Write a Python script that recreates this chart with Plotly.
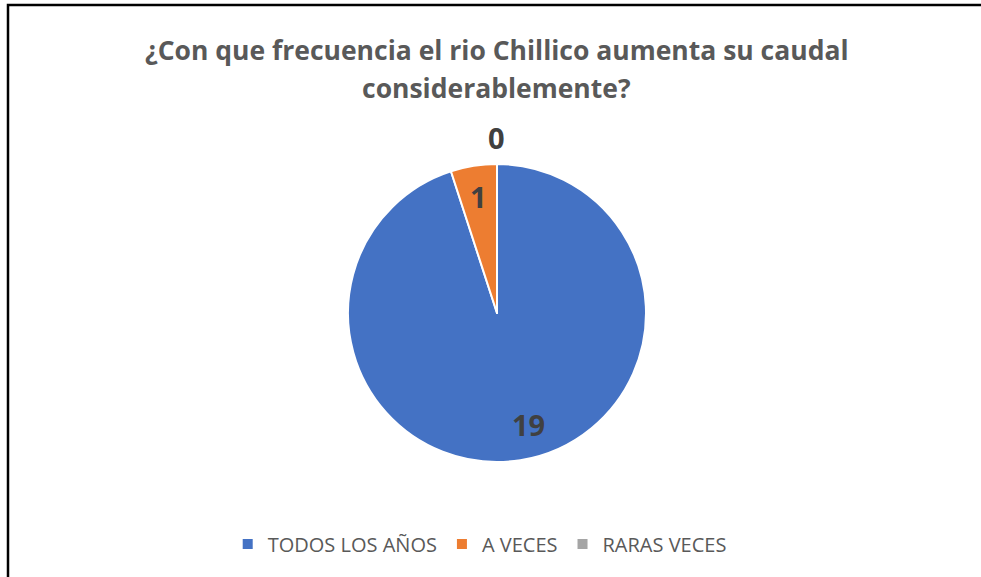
import math
import plotly.graph_objects as go

categories = ["TODOS LOS AÑOS", "A VECES", "RARAS VECES"]
values = [19, 1, 0]
colors = ["#4472C4", "#ED7D31", "#A5A5A5"]
title_lines = ["¿Con que frecuencia el rio Chillico aumenta su caudal",
               "considerablemente?"]

W, H = 981, 577
cx, cy, R = 497, 313, 149  # pie centre / radius in pixels
label_radius = [0.77, 0.79, 1.18]
label_shift = [14, 0, 0]  # tangential nudge (px)

fig = go.Figure(go.Pie(
    labels=categories, values=values, sort=False,
    direction="clockwise", rotation=0,
    marker=dict(colors=colors, line=dict(color="white", width=2)),
    textinfo="none", hoverinfo="label+value",
    domain=dict(x=[(cx - R) / W, (cx + R) / W],
                y=[(H - cy - R) / H, (H - cy + R) / H]),
    showlegend=True,
))

total = sum(values)
cum = 0
annotations = []
for v, rf, sh in zip(values, label_radius, label_shift):
    mid = (cum + v / 2) / total
    cum += v
    th = 2 * math.pi * mid
    px = cx + math.sin(th) * R * rf - math.cos(th) * sh
    py = cy - math.cos(th) * R * rf - math.sin(th) * sh
    annotations.append(dict(
        x=px / W, y=(H - py) / H, xref="paper", yref="paper",
        text=f"<b>{v}</b>", showarrow=False,
        font=dict(family="Open Sans", size=29, color="#404040"),
        xanchor="center", yanchor="middle"))

for line, ty in zip(title_lines, [50, 88]):
    annotations.append(dict(
        x=496.5 / W, y=(H - ty) / H, xref="paper", yref="paper",
        text=f"<b>{line}</b>", showarrow=False,
        font=dict(family="Open Sans", size=26.5, color="#595959"),
        xanchor="center", yanchor="middle", align="center"))

fig.update_layout(
    width=W, height=H,
    margin=dict(l=0, r=0, t=0, b=0),
    paper_bgcolor="white", plot_bgcolor="white",
    annotations=annotations,
    legend=dict(orientation="h", x=0.489, xanchor="center",
                y=(H - 544) / H, yanchor="middle",
                font=dict(family="Open Sans", size=20, color="#595959"),
                itemwidth=30, traceorder="normal"),
    shapes=[
        dict(type="rect", xref="paper", yref="paper",
             x0=8 / W, x1=1.05, y0=-0.05, y1=(H - 5) / H,
             line=dict(color="black", width=2.5), fillcolor="rgba(0,0,0,0)"),
    ],
)

fig.write_html("out.html", config={"displayModeBar": False},
               post_script="document.body.style.margin='0px';"
                           "document.body.style.overflow='hidden';")
